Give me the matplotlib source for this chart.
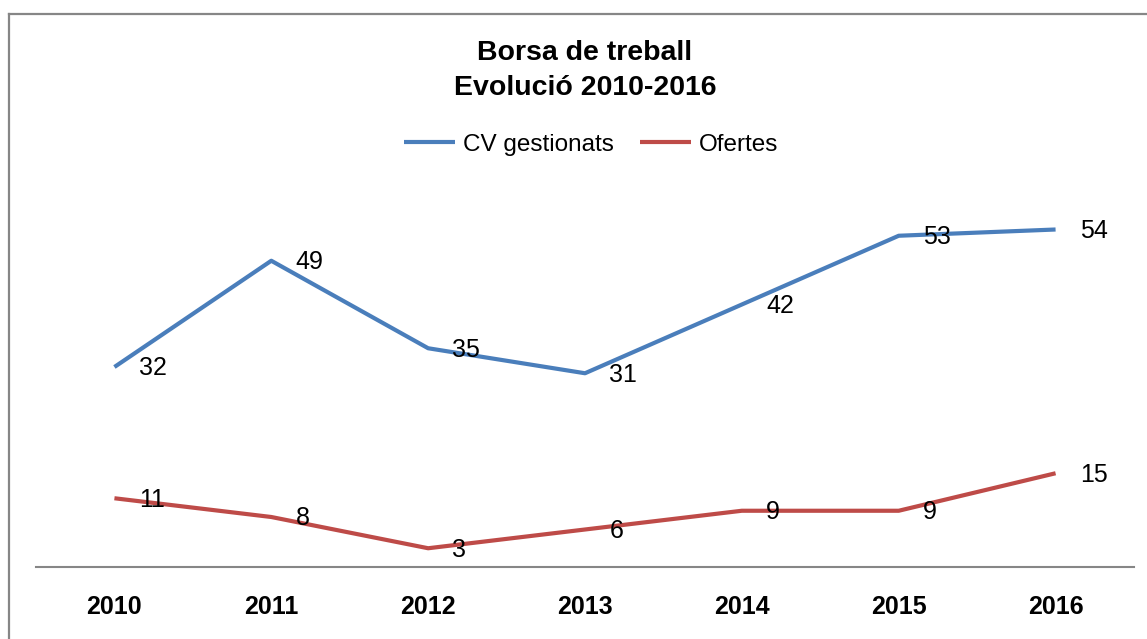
import matplotlib.pyplot as plt
from matplotlib.lines import Line2D

years = ['2010', '2011', '2012', '2013', '2014', '2015', '2016']
cv_gestionats = [32, 49, 35, 31, 42, 53, 54]
ofertes = [11, 8, 3, 6, 9, 9, 15]

plt.rcParams['font.family'] = ['Liberation Sans', 'DejaVu Sans']

W, H = 1147, 639
fig = plt.figure(figsize=(W / 100, H / 100), dpi=100)
ax = fig.add_axes([36 / W, 1 - 567 / H, 1098 / W, 375 / H])

x = list(range(len(years)))
ax.plot(x, cv_gestionats, color='#4A7EBB', lw=3.0, label='CV gestionats',
        solid_capstyle='butt')
ax.plot(x, ofertes, color='#BE4B48', lw=3.0, label='Ofertes',
        solid_capstyle='butt')

for series in (cv_gestionats, ofertes):
    for i, v in enumerate(series):
        ax.annotate(str(v), (i, v), xytext=(17.5, -1), textcoords='offset points',
                    ha='left', va='center', fontsize=18, color='black')

ax.set_xlim(-0.5, 6.5)
ax.set_ylim(0, 60)
ax.set_yticks([])
ax.set_xticks(x)
ax.set_xticklabels(years, fontsize=18, fontweight='bold')
ax.tick_params(axis='x', length=0, pad=20)
for s in ('left', 'right', 'top'):
    ax.spines[s].set_visible(False)
ax.spines['bottom'].set_color('#868686')
ax.spines['bottom'].set_linewidth(1.5)

fig.text(585 / W, 1 - 53 / H, 'Borsa de treball', ha='center', va='center',
         fontsize=20.5, fontweight='bold')
fig.text(585 / W, 1 - 88 / H, 'Evolució 2010-2016', ha='center', va='center',
         fontsize=20.5, fontweight='bold')

fig.legend(loc='center', bbox_to_anchor=(591 / W, 1 - 145 / H), ncol=2,
           frameon=False, fontsize=17.5, handlelength=2.1, handletextpad=0.3,
           columnspacing=1.1)

# outer chart border (cropped at right and bottom)
fig.add_artist(Line2D([8.5 / W, 8.5 / W], [0, 1 - 13.5 / H],
                      transform=fig.transFigure, color='#868686', lw=1.6))
fig.add_artist(Line2D([8.5 / W, 1], [1 - 13.5 / H, 1 - 13.5 / H],
                      transform=fig.transFigure, color='#868686', lw=1.6))

fig.savefig('out.png', dpi=100)
